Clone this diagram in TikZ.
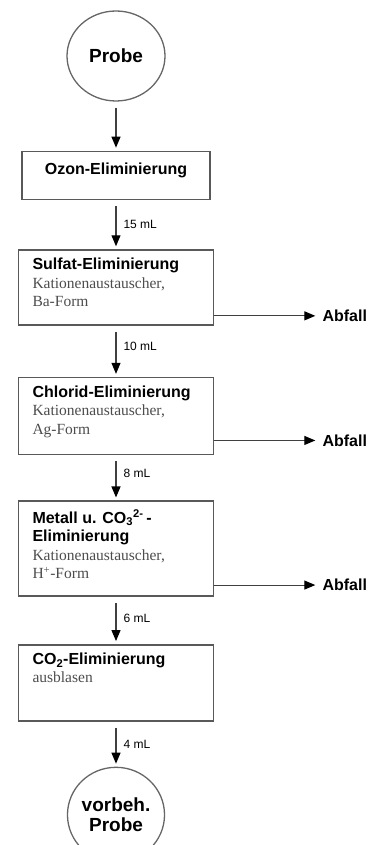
\documentclass[tikz,border=0pt]{standalone}
\usepackage{fontspec}
\setmainfont{Liberation Serif}
\setsansfont{Liberation Sans}
\usetikzlibrary{arrows.meta, positioning, shapes.geometric}
\newcommand{\steptitle}[1]{{\sffamily\bfseries\fontsize{16}{18.5}\selectfont #1}}
\newcommand{\stepnote}[1]{{\color{black!70}#1}}
\newcommand{\stepbody}[2]{\parbox[c][#1][t]{167pt}{\fontsize{15.5}{18.5}\selectfont #2}}

\begin{document}
\begin{tikzpicture}[
    x=1pt, y=1pt,
    % Box styles
    samplecirc/.style={
      ellipse, draw=black!60, line width=1.3pt,
      minimum width=98pt, minimum height=90pt, inner sep=0pt,
      align=center, font=\sffamily\bfseries\fontsize{19}{20}\selectfont
    },
    stepbox/.style={
      rectangle, draw=black!65, line width=1.6pt,
      inner xsep=14pt, inner ysep=8pt
    },
    wastelabel/.style={
      inner sep=0pt, font=\sffamily\bfseries\fontsize{16}{18}\selectfont
    },
    vollabel/.style={
      inner sep=0pt, font=\sffamily\fontsize{12}{13}\selectfont
    },
    % Arrow styles
    arr/.style={-{Triangle[length=11pt, width=9pt, color=black]},
      line width=1.1pt, draw=black!75, shorten <=6pt, shorten >=3pt},
    wastearr/.style={-{Triangle[length=11pt, width=9pt, color=black]},
      line width=1.1pt, draw=black!75, shorten >=7pt}
  ]
  \useasboundingbox (0,0) rectangle (368,-845);

  % ============ Sample in ============
  \node[samplecirc] (probe) at (116,-56) {Probe};

  % ============ Elimination steps ============
  \node[stepbox, below=49pt of probe] (ozon)
    {\parbox[c][32pt][t]{160pt}{\vspace{3pt}\centering\steptitle{Ozon-Eliminierung}}};
  \node[stepbox, below=49pt of ozon] (sulfat)
    {\stepbody{59pt}{\steptitle{Sulfat-Eliminierung}\\
      \stepnote{Kationenaustauscher,\\ Ba-Form}}};
  \node[stepbox, below=51pt of sulfat] (chlorid)
    {\stepbody{61pt}{\steptitle{Chlorid-Eliminierung}\\
      \stepnote{Kationenaustauscher,\\ Ag-Form}}};
  \node[stepbox, below=45pt of chlorid] (metall)
    {\stepbody{79pt}{\steptitle{Metall u. CO\textsubscript{3}\textsuperscript{2-}\,-\\ Eliminierung}\\
      \stepnote{Kationenaustauscher,\\ H\textsuperscript{+}-Form}}};
  \node[stepbox, below=47pt of metall] (cotwo)
    {\stepbody{60pt}{\steptitle{CO\textsubscript{2}-Eliminierung}\\
      \stepnote{ausblasen}}};

  % ============ Sample out ============
  \node[samplecirc, minimum width=95pt, minimum height=95pt, below=45pt of cotwo] (result)
    {vorbeh.\\ Probe};

  % ============ Waste ============
  \node[wastelabel, right=108pt of sulfat.south east, yshift=10pt] (waste1) {Abfall};
  \node[wastelabel, right=108pt of chlorid.south east, yshift=15pt] (waste2) {Abfall};
  \node[wastelabel, right=108pt of metall.south east, yshift=12pt] (waste3) {Abfall};

  % ============ Arrows ============
  \draw[arr] (probe) -- (ozon);
  \draw[arr] (ozon) -- (sulfat) node[vollabel, pos=0.5, right=7pt] {15 mL};
  \draw[arr] (sulfat) -- (chlorid) node[vollabel, pos=0.4, right=7pt] {10 mL};
  \draw[arr] (chlorid) -- (metall) node[vollabel, pos=0.4, right=7pt] {8 mL};
  \draw[arr] (metall) -- (cotwo) node[vollabel, pos=0.45, right=7pt] {6 mL};
  \draw[arr] (cotwo) -- (result) node[vollabel, pos=0.5, right=7pt] {4 mL};

  \draw[wastearr] (sulfat.east |- waste1.west) -- (waste1.west);
  \draw[wastearr] (chlorid.east |- waste2.west) -- (waste2.west);
  \draw[wastearr] (metall.east |- waste3.west) -- (waste3.west);

\end{tikzpicture}
\end{document}
